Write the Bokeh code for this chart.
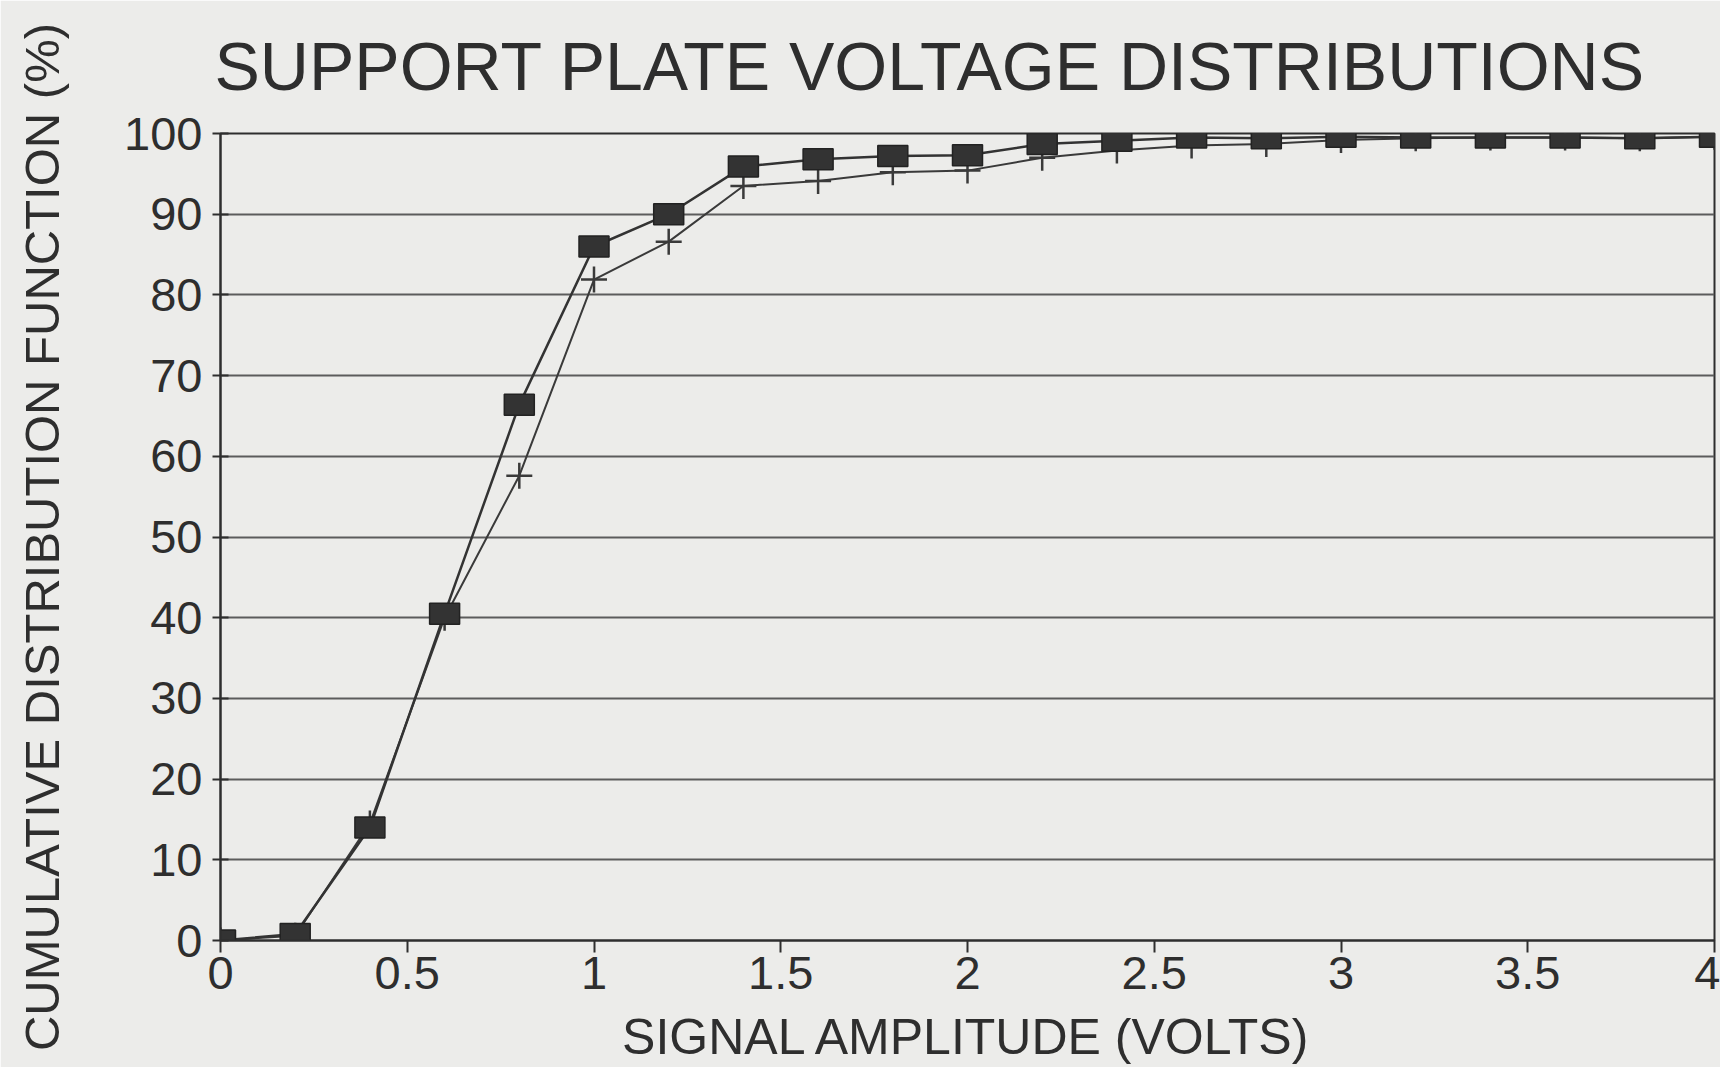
from bokeh.plotting import figure
from bokeh.models import FixedTicker, ColumnDataSource
from bokeh.embed import file_html
from bokeh.resources import INLINE

# ---- data ----
amplitude = [0.0, 0.2, 0.4, 0.6, 0.8, 1.0, 1.2, 1.4, 1.6, 1.8, 2.0,
             2.2, 2.4, 2.6, 2.8, 3.0, 3.2, 3.4, 3.6, 3.8, 4.0]
cdf_square = [0.0, 0.8, 14.0, 40.5, 66.4, 86.0, 90.0, 95.9, 96.8, 97.2, 97.3,
              98.7, 99.1, 99.5, 99.4, 99.6, 99.5, 99.5, 99.5, 99.4, 99.6]
cdf_plus = [0.0, 0.6, 14.5, 40.0, 57.6, 81.9, 86.6, 93.5, 94.1, 95.2, 95.4,
            97.0, 97.9, 98.5, 98.7, 99.2, 99.4, 99.5, 99.5, 99.4, 99.6]
x_ticks = [0, 0.5, 1, 1.5, 2, 2.5, 3, 3.5, 4]
x_tick_labels = ["0", "0.5", "1", "1.5", "2", "2.5", "3", "3.5", "4"]
y_ticks = [0, 10, 20, 30, 40, 50, 60, 70, 80, 90, 100]

title_text = "SUPPORT PLATE VOLTAGE DISTRIBUTIONS"
x_label = "SIGNAL AMPLITUDE (VOLTS)"
y_label = "CUMULATIVE DISTRIBUTION FUNCTION (%)"

FONT = "'Liberation Sans', sans-serif"
PAPER = "#ececea"
INK = "#2e2e2e"

p = figure(width=1720, height=1067, output_backend="svg", toolbar_location=None,
           x_range=(0, 4), y_range=(0, 100), title=title_text,
           min_border_left=220, min_border_right=6, min_border_top=132,
           min_border_bottom=126)

p.background_fill_color = PAPER
p.border_fill_color = PAPER
p.outline_line_color = INK
p.outline_line_width = 2

p.title.text_font = FONT
p.title.text_font_size = "68px"
p.title.text_font_style = "normal"
p.title.text_color = INK
p.title.align = "left"
p.title.vertical_align = "top"
p.title.offset = -6
p.title.standoff = 55

# axes
p.xaxis.ticker = FixedTicker(ticks=x_ticks)
p.xaxis.major_label_overrides = {t: l for t, l in zip(x_ticks, x_tick_labels)}
p.yaxis.ticker = FixedTicker(ticks=y_ticks)
for ax in (p.xaxis, p.yaxis):
    ax.axis_line_color = INK
    ax.axis_line_width = 2
    ax.major_tick_line_color = INK
    ax.major_tick_line_width = 2
    ax.minor_tick_line_color = None
    ax.major_label_text_font = FONT
    ax.major_label_text_font_size = "47px"
    ax.major_label_text_color = INK
    ax.axis_label_text_font = FONT
    ax.axis_label_text_font_style = "normal"
    ax.axis_label_text_color = INK

p.xaxis.major_tick_in = 0
p.xaxis.major_tick_out = 12
p.xaxis.major_label_standoff = 4
p.xaxis.axis_label = x_label
p.xaxis.axis_label_text_font_size = "50px"
p.xaxis.axis_label_standoff = 17

p.yaxis.major_tick_in = 8
p.yaxis.major_tick_out = 8
p.yaxis.major_label_standoff = 10
p.yaxis.axis_label = y_label
p.yaxis.axis_label_text_font_size = "49px"
p.yaxis.axis_label_standoff = 52

p.xgrid.grid_line_color = None
p.ygrid.grid_line_color = "#5c5c5c"
p.ygrid.grid_line_width = 2

src = ColumnDataSource(dict(x=amplitude, sq=cdf_square, pl=cdf_plus))

# plus series
p.line("x", "pl", source=src, line_color="#3a3a3a", line_width=2)
p.scatter("x", "pl", source=src, marker="cross", size=26, line_width=2.5,
          line_color="#3a3a3a")

# square series
p.line("x", "sq", source=src, line_color="#333333", line_width=2.5)
p.rect("x", "sq", source=src, width=30, height=21, width_units="screen",
       height_units="screen", fill_color="#333333", line_color="#222222",
       line_width=1.5)

open("out.html", "w").write(file_html(p, INLINE))
